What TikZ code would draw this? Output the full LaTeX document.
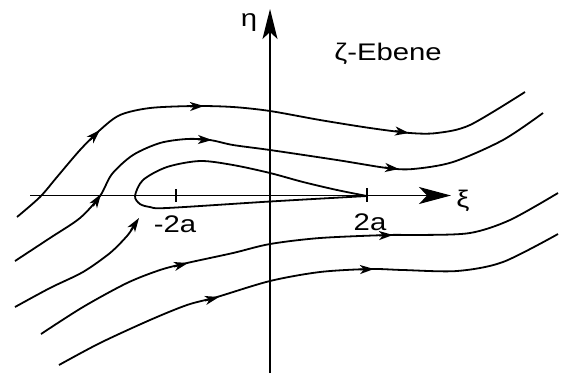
\documentclass[tikz,border=0pt]{standalone}
\usepackage{fontspec}
\setmainfont{Liberation Sans}
\usetikzlibrary{arrows.meta}
\newfontfamily\lblfont[FakeStretch=1.22]{Liberation Sans}
\begin{document}
\begin{tikzpicture}[x=1pt,y=-1pt,
  curve/.style={line width=1.8pt},
  axis/.style={line width=1.6pt},
  midtip/.style={line width=1.8pt,-{Stealth[length=14pt,width=9pt,inset=4pt]}},
  lbl/.style={font=\lblfont\fontsize{24}{26}\selectfont, inner sep=0pt}]
\useasboundingbox (0,0) rectangle (569,376);
% axes
\coordinate (xs) at (30,195.5);
\coordinate (xe) at (451,195.5);
\coordinate (ys) at (270,373);
\coordinate (ye) at (270,9);
\draw[axis,-{Stealth[length=32pt,width=17pt,inset=8pt]}] (xs) -- (xe);
\draw[axis,-{Stealth[length=30pt,width=15pt,inset=7pt]}] (ys) -- (ye);
% ticks
\coordinate (t1a) at (176,189); \coordinate (t1b) at (176,202);
\coordinate (t2a) at (367,188); \coordinate (t2b) at (367,202);
\draw[axis] (t1a) -- (t1b);
\draw[axis] (t2a) -- (t2b);
% labels
\node[lbl,anchor=base] (eta) at (249,26) {η};
\node[lbl,anchor=base] (ebene) at (388,60) {ζ-Ebene};
\node[lbl,anchor=center] (xi) at (463,201) {ξ};
\node[lbl,anchor=base] (m2a) at (175,232) {-2a};
\node[lbl,anchor=base] (p2a) at (370,230) {2a};
% curve A
\draw[curve] plot[smooth] coordinates {(17,217) (40,197) (57,177) (80,150) (100,130) (120,115) (150,108) (195,106) (233,107) (270,111) (320,120) (370,128) (410,133) (437,133) (470,125) (525,92)};
\draw[midtip] (90,140) -- (100,130);
\draw[midtip] (190,106.5) -- (204,106);
\draw[midtip] (395,131) -- (409,133);
% curve B
\draw[curve] plot[smooth] coordinates {(15,261) (50,238) (80,218) (100,196) (112,174) (133,155) (160,143) (187,139) (210,140) (233,145) (270,150) (337,160) (387,168) (413,169) (453,162) (503,140) (543,113)};
\draw[midtip] (93,206) -- (101,194);
\draw[midtip] (198,139.5) -- (212,140);
\draw[midtip] (385,167.5) -- (399,169);
% loop C
\draw[curve] plot[smooth] coordinates {(367,196) (337,190) (303,182) (270,173) (233,165) (200,161) (167,167) (143,180) (135,196) (140,204) (150,207) (167,208) (270,201.5) (367,196)};
% curve D
\draw[curve] plot[smooth] coordinates {(15,307) (50,288) (83,272) (110,253) (127,236) (134,226)};
\draw[midtip] (131,230) -- (139,218);
% curve E
\draw[curve] plot[smooth] coordinates {(41,334) (83,307) (127,283) (160,270) (187,263) (233,253) (270,244) (320,238) (388,235) (420,235) (470,233) (510,220) (558,193)};
\draw[midtip] (174,266.5) -- (188,263);
\draw[midtip] (379,235.5) -- (393,235);
% curve F
\draw[curve] plot[smooth] coordinates {(59,365) (100,343) (150,320) (187,305) (217,297) (270,281) (320,272) (370,269) (403,270) (457,271) (503,262) (558,234)};
\draw[midtip] (205,300.5) -- (219,297);
\draw[midtip] (360,269.5) -- (374,269);
\end{tikzpicture}
\end{document}
